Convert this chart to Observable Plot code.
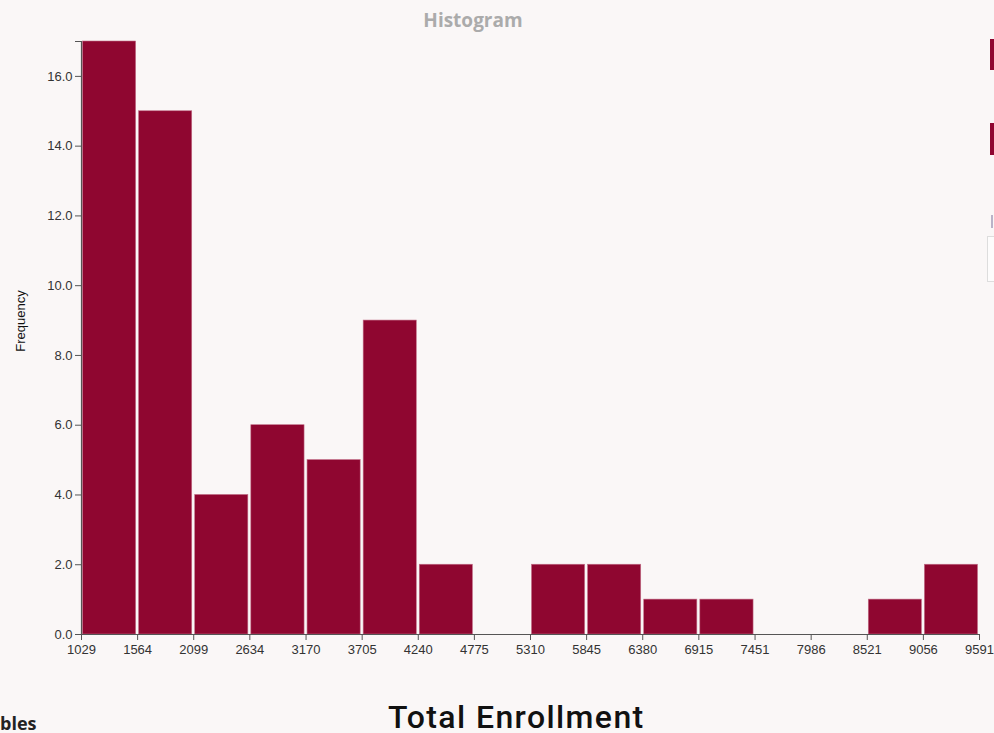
<!DOCTYPE html>
<html>
<head>
<meta charset="utf-8">
<script src="https://cdn.jsdelivr.net/npm/d3@7"></script>
<script src="https://cdn.jsdelivr.net/npm/@observablehq/plot@0.6"></script>
<style>
  html, body { margin: 0; padding: 0; width: 994px; height: 733px; overflow: hidden; background: #faf7f7; font-family: "Liberation Sans", Arial, sans-serif; }
  #wrap { position: relative; width: 994px; height: 733px; overflow: hidden; }
  #title { position: absolute; left: 0; width: 946px; top: 7px; text-align: center; font: bold 19px "Open Sans", "Noto Sans", sans-serif; color: #ababab; }
  #chart { position: absolute; left: 0; top: 0; }
  #xtitle { position: absolute; left: 388px; top: 698px; line-height: 1; font: 500 32px Roboto, "Noto Sans", sans-serif; color: #111; letter-spacing: 1.4px; white-space: nowrap; }
  #vars { position: absolute; left: 0px; top: 711px; line-height: 1; font: bold 18px "Open Sans", sans-serif; color: #222; white-space: nowrap; }
  .blk { position: absolute; background: #8f0630; }
</style>
</head>
<body>
<div id="wrap">
  <div id="chart"></div>
  <div id="title">Histogram</div>
  <div id="xtitle">Total Enrollment</div>
  <div id="vars">bles</div>
  <div class="blk" style="left:990px;top:39px;width:6px;height:31px;"></div>
  <div class="blk" style="left:990px;top:123px;width:6px;height:32px;"></div>
  <div style="position:absolute;left:991px;top:215px;width:2px;height:13px;background:#b9b3c8;"></div>
  <div style="position:absolute;left:987px;top:236px;width:12px;height:44px;border:1px solid #ddd;background:#fdfcfc;"></div>
</div>
<script>
// Bin edges (tick labels) and frequency per bin
const binEdges = [1029, 1564, 2099, 2634, 3170, 3705, 4240, 4775, 5310, 5845, 6380, 6915, 7451, 7986, 8521, 9056, 9591];
const counts   = [17, 15, 4, 6, 5, 9, 2, 0, 2, 2, 1, 1, 0, 0, 1, 2];
const yTicks   = [0, 2, 4, 6, 8, 10, 12, 14, 16];

const bins = counts.map((c, i) => ({x1: binEdges[i], x2: binEdges[i + 1], count: c}));
const xMin = binEdges[0], xMax = binEdges[binEdges.length - 1];

const plot = Plot.plot({
  width: 994,
  height: 664,
  marginLeft: 81,
  marginRight: 15,
  marginTop: 41,
  marginBottom: 30,
  style: {background: "transparent", fontFamily: "'Liberation Sans', Arial, sans-serif", fontSize: "13px", color: "#333"},
  x: {type: "linear", domain: [xMin, xMax], axis: null},
  y: {type: "linear", domain: [0, 17], axis: null},
  marks: [
    Plot.rectY(bins.filter(d => d.count > 0), {
      x1: "x1", x2: "x2", y1: 0, y2: "count",
      fill: "#8f0630", stroke: "#c06d86", strokeWidth: 0.6, insetLeft: 1.5, insetRight: 1.5
    }),
    // y axis line with outer tick at top
    Plot.ruleX([xMin], {y1: 0, y2: 17, stroke: "#555", strokeWidth: 1.2}),
    Plot.axisY([17], {tickFormat: () => "", tickSize: 6, stroke: "#555", label: null}),
    // y ticks
    Plot.axisY(yTicks, {
      tickFormat: d => d.toFixed(1), tickSize: 6, tickPadding: 3,
      stroke: "#555", fill: "#333", fontSize: 13, label: null
    }),
    Plot.text(["Frequency"], {
      x: xMin, y: 8.5, dx: -61, dy: -17, rotate: -90, fontSize: 13, fill: "#111", textAnchor: "middle"
    }),
    // x axis line
    Plot.ruleY([0], {x1: xMin, x2: xMax, stroke: "#555", strokeWidth: 1.2}),
    Plot.axisX(binEdges, {
      tickFormat: d => String(d), tickSize: 6, tickPadding: 4,
      stroke: "#555", fill: "#333", fontSize: 13, label: null
    })
  ]
});
document.getElementById("chart").appendChild(plot);
</script>
</body>
</html>
